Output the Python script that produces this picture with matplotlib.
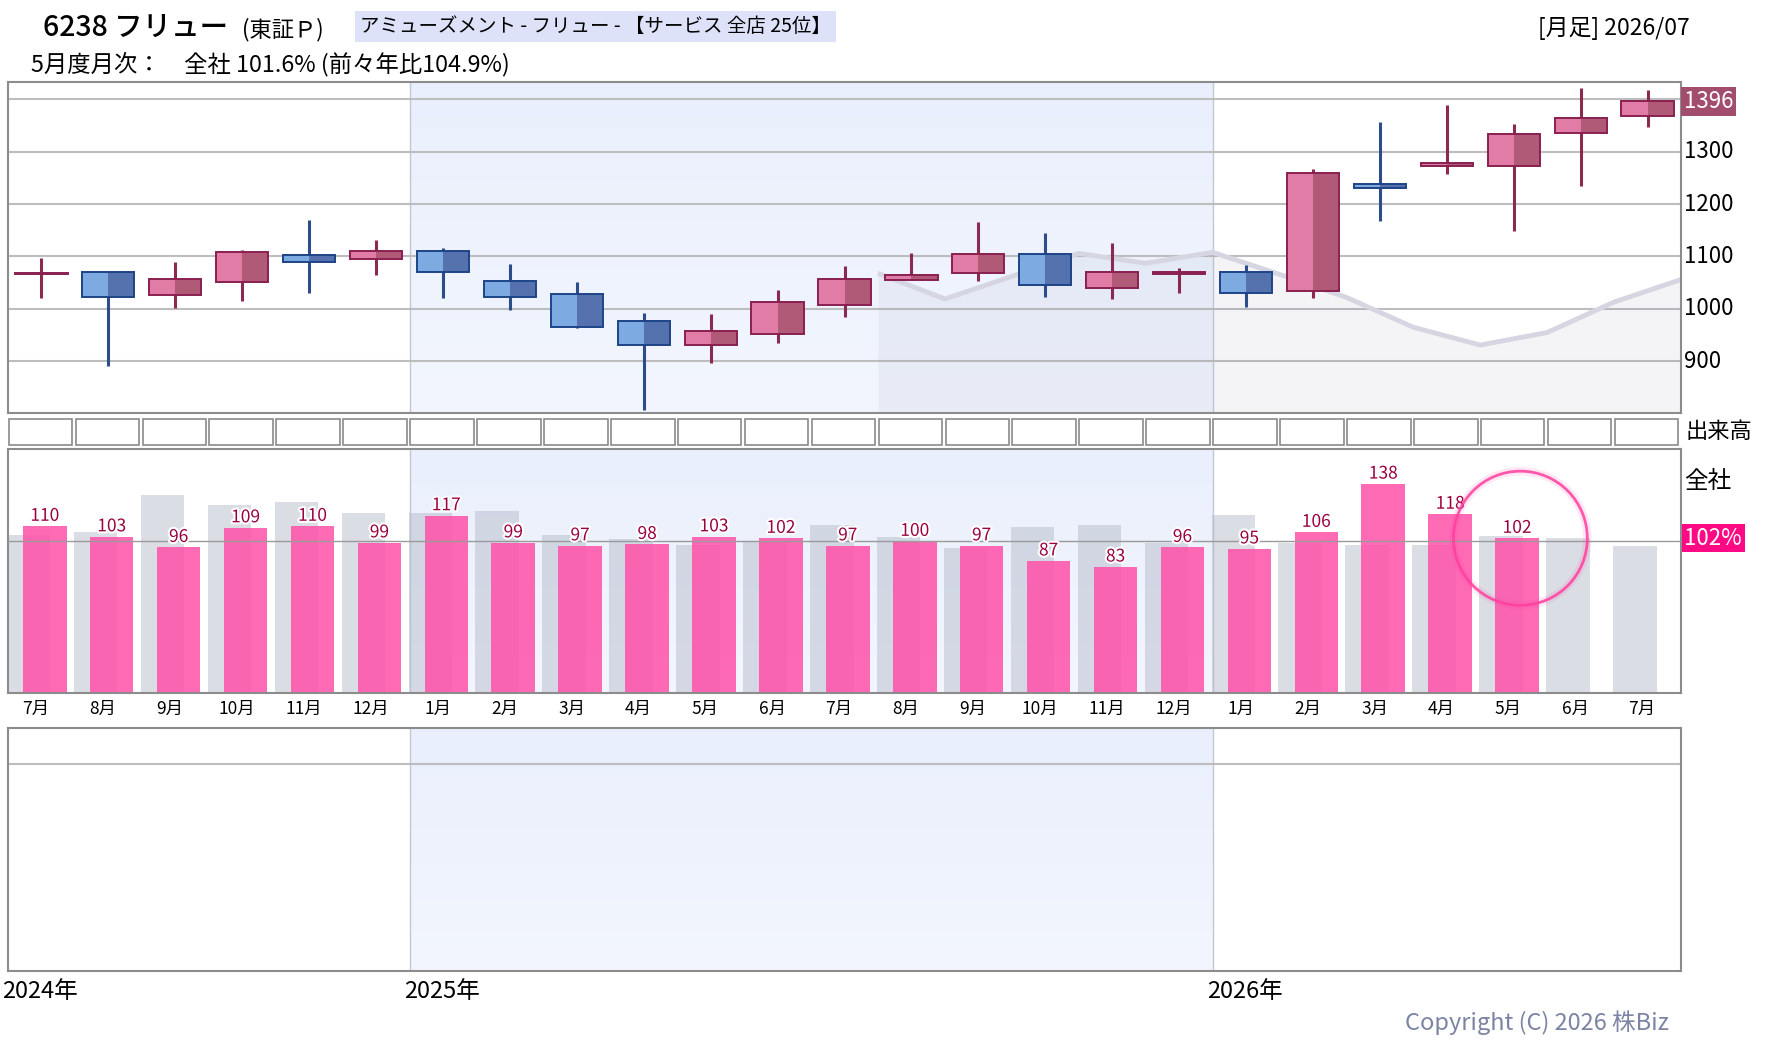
import numpy as np
import matplotlib
matplotlib.use('Agg')
import matplotlib.pyplot as plt
import matplotlib.patheffects as pe
from matplotlib.patches import Rectangle, Ellipse

plt.rcParams['font.family'] = ['Noto Sans CJK JP', 'DejaVu Sans']

# --- data ---
months = ['7月', '8月', '9月', '10月', '11月', '12月',
          '1月', '2月', '3月', '4月', '5月', '6月', '7月', '8月', '9月', '10月', '11月', '12月',
          '1月', '2月', '3月', '4月', '5月', '6月', '7月']
opens = [1066, 1070, 1026, 1051, 1102, 1095, 1110, 1053, 1028, 976, 931, 952, 1007,
         1055, 1068, 1104, 1039, 1067, 1070, 1034, 1238, 1272, 1272, 1335, 1368]
closes = [1069, 1022, 1058, 1108, 1089, 1110, 1070, 1022, 965, 932, 957, 1013, 1058,
          1064, 1104, 1045, 1070, 1069, 1030, 1259, 1230, 1278, 1334, 1364, 1396]
highs = [1097, 1070, 1090, 1112, 1170, 1132, 1116, 1086, 1051, 993, 990, 1036, 1082,
         1107, 1166, 1145, 1126, 1078, 1083, 1267, 1356, 1389, 1352, 1422, 1418]
lows = [1021, 892, 1002, 1016, 1031, 1065, 1021, 997, 963, 808, 896, 934, 985,
        1055, 1054, 1023, 1018, 1031, 1004, 1021, 1167, 1258, 1149, 1235, 1348]

# grey comparison line, starts at the left edge of month index 13
line_start = 13
line_vals = [1068, 1019, 1062, 1106, 1087, 1108, 1066, 1022, 965, 931, 955, 1013, 1056]

price_ticks = [900, 1000, 1100, 1200, 1300]

# monthly sales ratio (%) : previous year (grey) and current (pink)
prev_vals = [104, 106, 131, 124, 126, 119, 119, 120, 104, 101.5, 97.5, 100, 111,
             103, 95.5, 109.5, 111, 99, 117.5, 99, 97.5, 97.5, 103.5, 102, 97]
curr_vals = [110, 103, 96, 109, 110, 99, 117, 99, 97, 98, 103, 102, 97,
             100, 97, 87, 83, 96, 95, 106, 138, 118, 102]

year_labels = ['2024年', '2025年', '2026年']
year_starts = [0, 6, 18]
shade_start, shade_end = 6, 18   # 2025 band

W, H = 1780, 1054
fig = plt.figure(figsize=(W / 100, H / 100), dpi=100)
fig.patch.set_facecolor('white')

left = 8 / W
width = 1673 / W
ax_p = fig.add_axes([left, 1 - 413.3 / H, width, 331 / H])
ax_v = fig.add_axes([left, 1 - 448 / H, width, 31 / H])
ax_b = fig.add_axes([left, 1 - 693.3 / H, width, 244 / H])
ax_e = fig.add_axes([left, 1 - 971 / H, width, 243.5 / H])

n = len(months)
x = np.arange(n)

ax_p.set_ylim(800.8, 1432.4)
ax_b.set_ylim(-0.86, 161)
ax_e.set_ylim(0, 1)
ax_v.set_ylim(0, 1)

# vertical gradient for the 2025 band
grad = np.linspace(0, 1, 64).reshape(-1, 1, 1)
top_c = np.array([0xe9, 0xef, 0xfc]) / 255
bot_c = np.array([0xf3, 0xf6, 0xfe]) / 255
grad_img = top_c * (1 - grad) + bot_c * grad

for ax in [ax_p, ax_b, ax_e, ax_v]:
    ax.set_xlim(-0.5, n - 0.5)
    ax.set_xticks([])
    ax.set_yticks([])
for ax in [ax_p, ax_b, ax_e]:
    y0, y1 = ax.get_ylim()
    ax.imshow(grad_img, extent=[shade_start - 0.5, shade_end - 0.5, y0, y1],
              aspect='auto', origin='upper', zorder=0)
    ax.set_ylim(y0, y1)
    ax.set_xlim(-0.5, n - 0.5)
    for xb in [shade_start - 0.5, shade_end - 0.5]:
        ax.axvline(xb, color='#c3c7d3', lw=1, zorder=1)
    for s in ax.spines.values():
        s.set_color('#8c8c8c')
        s.set_linewidth(1.5)

# --- price panel ---
for v in price_ticks + [1400]:
    ax_p.axhline(v, color='#bdbdbd', lw=1.5, zorder=1)

lx = np.arange(line_start, line_start + len(line_vals)) - 0.5
ax_p.fill_between(lx, line_vals, 800.8, color='#8890b0', alpha=0.09, lw=0, zorder=1)
ax_p.plot(lx, line_vals, color='#d6d6e2', lw=3.5, zorder=2, solid_capstyle='butt')

bw = 0.78
for i in range(n):
    o, c, h, l = opens[i], closes[i], highs[i], lows[i]
    up = c >= o
    if up:
        c_left, c_right, edge, wick = '#e07ca6', '#b05a78', '#8a2050', '#8a2a50'
    else:
        c_left, c_right, edge, wick = '#7eaae2', '#5672ae', '#1e4488', '#2c4c8c'
    lo = min(o, c)
    bh = max(abs(c - o), 3)
    ax_p.vlines(i, l, h, color=wick, lw=2.2, zorder=3)
    ax_p.add_patch(Rectangle((i - bw / 2, lo), bw / 2, bh, facecolor=c_left, lw=0, zorder=4))
    ax_p.add_patch(Rectangle((i, lo), bw / 2, bh, facecolor=c_right, lw=0, zorder=4))
    ax_p.add_patch(Rectangle((i - bw / 2, lo), bw, bh, facecolor='none',
                             edgecolor=edge, lw=1.4, zorder=5))

ytr = ax_p.get_yaxis_transform()
for v in price_ticks:
    ax_p.text(1.0015, v, str(v), transform=ytr, ha='left', va='center',
              fontsize=16, color='black', clip_on=False)
ax_p.text(1.0015, closes[-1], str(closes[-1]), transform=ytr, ha='left', va='center',
          fontsize=16, color='white', clip_on=False,
          bbox=dict(boxstyle='square,pad=0.12', facecolor='#a24c6e', edgecolor='none'))

# --- volume strip (empty boxes) ---
for s in ax_v.spines.values():
    s.set_visible(False)
for i in range(n):
    ax_v.add_patch(Rectangle((i - 0.49, 0.09), 0.95, 0.835, facecolor='white',
                             edgecolor='#8a8a8a', lw=1.2))
fig.text(1685 / W, 1 - 431.7 / H, '出来高', fontsize=16, ha='left', va='center')

# --- monthly ratio bars ---
ax_b.bar(x - 0.19, prev_vals, width=0.65, color='#b8bccc', alpha=0.5, lw=0, zorder=2)
cx = np.arange(len(curr_vals))
ax_b.bar(cx + 0.05, curr_vals, width=0.65, color='#ff50a8', alpha=0.85, lw=0, zorder=3)
ax_b.axhline(100, color='#9a9a9a', lw=1, zorder=4)

stroke = [pe.withStroke(linewidth=3, foreground='white')]
for i, v in enumerate(curr_vals):
    ax_b.annotate(str(v), (i + 0.05, v), xytext=(0, 1), textcoords='offset points',
                  ha='center', va='bottom', fontsize=12.5, color='#9a0040',
                  path_effects=stroke, zorder=6)

xtr = ax_b.get_xaxis_transform()
for i, m in enumerate(months):
    ax_b.text(i - 0.08, -0.062, m, transform=xtr, ha='center', va='center',
              fontsize=12.5, color='black', clip_on=False)

hi = len(curr_vals) - 1
ax_b.add_patch(Ellipse((hi + 0.1, curr_vals[hi]), 2.0, 89, fill=False,
                       edgecolor='#ff3f9f', lw=6, alpha=0.12, zorder=7, clip_on=False))
ax_b.add_patch(Ellipse((hi + 0.1, curr_vals[hi]), 2.0, 89, fill=False,
                       edgecolor='#ff3f9f', lw=2, alpha=0.85, zorder=7, clip_on=False))

fig.text(1684 / W, 1 - 481.7 / H, '全社', fontsize=17, ha='left', va='center')
ax_b.text(1.002, curr_vals[-1], f'{curr_vals[-1]}%', transform=ax_b.get_yaxis_transform(),
          ha='left', va='center', fontsize=16, color='white', clip_on=False,
          bbox=dict(boxstyle='square,pad=0.12', facecolor='#ff0a84', edgecolor='none'))

# --- empty bottom panel ---
ax_e.axhline(0.85, color='#bdbdbd', lw=1.5, zorder=1)
etr = ax_e.get_xaxis_transform()
for lab, st in zip(year_labels, year_starts):
    ax_e.annotate(lab, (st - 0.5, -0.085), xycoords=etr, xytext=(-4, 0),
                  textcoords='offset points', ha='left', va='center',
                  fontsize=17, color='black', annotation_clip=False)

# --- header texts ---
fig.text(43 / W, 1 - 36 / H, '6238 フリュー', fontsize=20.5, ha='left', va='baseline',
         fontweight='medium')
fig.text(242 / W, 1 - 36 / H, '(東証Ｐ)', fontsize=16, ha='left', va='baseline')
fig.text(360 / W, 1 - 32 / H, 'アミューズメント - フリュー - 【サービス 全店 25位】',
         fontsize=14, ha='left', va='baseline',
         bbox=dict(boxstyle='square,pad=0.28', facecolor='#dde2f9', edgecolor='none'))
fig.text(1690 / W, 1 - 29 / H, '[月足] 2026/07', fontsize=16.5, ha='right', va='center')
fig.text(31 / W, 1 - 64 / H, '5月度月次：　全社 101.6% (前々年比104.9%)',
         fontsize=16.8, ha='left', va='center')
fig.text(1669 / W, 1 - 1023 / H, 'Copyright (C) 2026 株Biz', fontsize=17,
         ha='right', va='center', color='#7c84a4')

fig.savefig('out.png', dpi=100)
